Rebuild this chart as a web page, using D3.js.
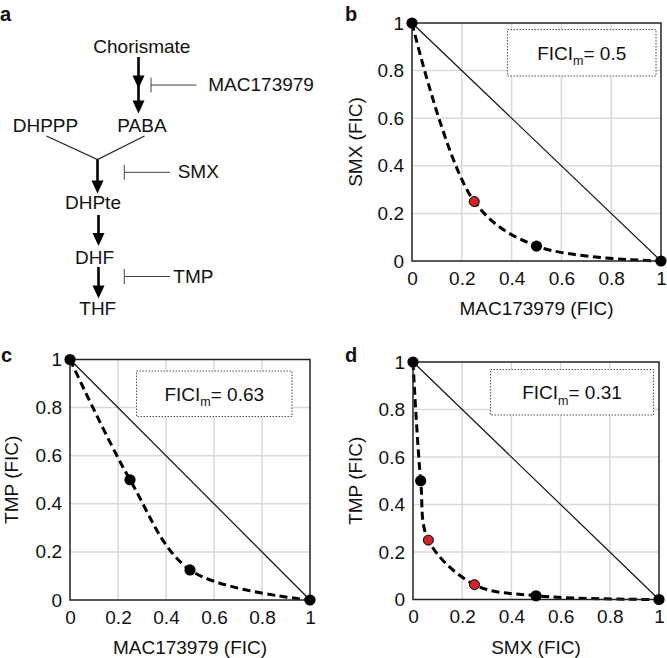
<!DOCTYPE html>
<html><head><meta charset="utf-8">
<script src="https://cdn.jsdelivr.net/npm/d3@7"></script>
<style>
html,body{margin:0;padding:0;background:#fff;}
text{font-family:"Liberation Sans",Arial,Helvetica,sans-serif;fill:#111;}
</style></head>
<body>
<svg id="chart" width="667" height="658"></svg>
<script>
// ---------- data ----------
const tickValues = [0, 0.2, 0.4, 0.6, 0.8, 1];
const tickLabels = ["0", "0.2", "0.4", "0.6", "0.8", "1"];

const panelB_x = [0, 0.25, 0.5, 1];
const panelB_y = [1, 0.25, 0.0625, 0];
const panelB_red = [false, true, false, false];

const panelC_x = [0, 0.25, 0.5, 1];
const panelC_y = [1, 0.5, 0.125, 0];
const panelC_red = [false, false, false, false];

const panelD_x = [0, 0.03125, 0.0625, 0.25, 0.5, 1];
const panelD_y = [1, 0.5, 0.25, 0.0625, 0.015625, 0];
const panelD_red = [false, false, true, true, false, false];

const ficiValues = ["0.5", "0.63", "0.31"];
const xTitles = ["MAC173979 (FIC)", "MAC173979 (FIC)", "SMX (FIC)"];
const yTitles = ["SMX (FIC)", "TMP (FIC)", "TMP (FIC)"];
const panelLetters = ["b", "c", "d"];

// ---------- layout ----------
const svg = d3.select("#chart");
const panels = [
  {x: panelB_x, y: panelB_y, red: panelB_red, l: 412, r: 661, t: 23, b: 261,
   box: [507.5, 29.5, 148.5, 46.5], letter: [345, 20.7], ytx: 362},
  {x: panelC_x, y: panelC_y, red: panelC_red, l: 70, r: 310, t: 359.5, b: 600,
   box: [136.5, 371, 155.5, 45.5], letter: [1, 361.5], ytx: 18},
  {x: panelD_x, y: panelD_y, red: panelD_red, l: 413, r: 659, t: 362, b: 599.5,
   box: [490.5, 369.5, 163, 45.5], letter: [345, 361.5], ytx: 362}
];

panels.forEach((p, i) => {
  const xs = d3.scaleLinear().domain([0, 1]).range([p.l, p.r]);
  const ys = d3.scaleLinear().domain([0, 1]).range([p.b, p.t]);
  const g = svg.append("g");

  // grid
  const inner = tickValues.filter(v => v > 0 && v < 1);
  g.selectAll(".gx").data(inner).join("line")
    .attr("x1", d => xs(d)).attr("x2", d => xs(d)).attr("y1", p.t).attr("y2", p.b)
    .attr("stroke", "#d9d9d9").attr("stroke-width", 1.5);
  g.selectAll(".gy").data(inner).join("line")
    .attr("y1", d => ys(d)).attr("y2", d => ys(d)).attr("x1", p.l).attr("x2", p.r)
    .attr("stroke", "#d9d9d9").attr("stroke-width", 1.5);

  // legend box
  g.append("rect").attr("x", p.box[0]).attr("y", p.box[1]).attr("width", p.box[2]).attr("height", p.box[3])
    .attr("fill", "#fff").attr("stroke", "#555").attr("stroke-width", 1.1).attr("stroke-dasharray", "1.5,1.5");
  const lt = g.append("text").attr("x", p.box[0] + p.box[2] / 2).attr("y", p.box[1] + p.box[3] / 2 + 7)
    .attr("text-anchor", "middle").attr("font-size", 19);
  lt.append("tspan").text("FICI");
  lt.append("tspan").attr("font-size", 12.5).attr("dy", 5.5).text("m");
  lt.append("tspan").attr("dy", -5.5).text("= " + ficiValues[i]);

  // additivity line
  g.append("line").attr("x1", xs(0)).attr("y1", ys(1)).attr("x2", xs(1)).attr("y2", ys(0))
    .attr("stroke", "#111").attr("stroke-width", 1.2);

  // isobologram curve
  const pts = p.x.map((v, k) => [v, p.y[k]]);
  const line = d3.line().x(d => xs(d[0])).y(d => ys(d[1])).curve(d3.curveCatmullRom.alpha(0.5));
  g.append("path").attr("d", line(pts)).attr("fill", "none").attr("stroke", "#000")
    .attr("stroke-width", 3).attr("stroke-dasharray", "8,4.5");

  // frame
  g.append("rect").attr("x", p.l).attr("y", p.t).attr("width", p.r - p.l).attr("height", p.b - p.t)
    .attr("fill", "none").attr("stroke", "#222").attr("stroke-width", 1.5);

  // axes
  const ax = d3.axisBottom(xs).tickValues(tickValues).tickFormat((d, k) => tickLabels[k])
    .tickSizeInner(0).tickSizeOuter(0).tickPadding(10.5);
  const axg = g.append("g").attr("transform", `translate(0,${p.b})`).call(ax);
  const ay = d3.axisLeft(ys).tickValues(tickValues).tickFormat((d, k) => tickLabels[k])
    .tickSizeInner(0).tickSizeOuter(0).tickPadding(8);
  const ayg = g.append("g").attr("transform", `translate(${p.l},0)`).call(ay);
  [axg, ayg].forEach(a => {
    a.select(".domain").remove();
    a.selectAll("text").attr("font-size", 19).attr("font-family", "Liberation Sans, Arial, sans-serif").attr("fill", "#111");
  });

  // markers
  g.selectAll(".pt").data(pts).join("circle")
    .attr("cx", d => xs(d[0])).attr("cy", d => ys(d[1]))
    .attr("r", (d, k) => p.red[k] ? 5 : 5.6)
    .attr("fill", (d, k) => p.red[k] ? "#d1232a" : "#000")
    .attr("stroke", "#000").attr("stroke-width", (d, k) => p.red[k] ? 1 : 0);

  // titles
  g.append("text").attr("x", (p.l + p.r) / 2).attr("y", p.b + 54).attr("text-anchor", "middle")
    .attr("font-size", 19).text(xTitles[i]);
  g.append("text").attr("transform", `translate(${p.ytx},${(p.t + p.b) / 2}) rotate(-90)`)
    .attr("text-anchor", "middle").attr("font-size", 19).text(yTitles[i]);
  g.append("text").attr("x", p.letter[0]).attr("y", p.letter[1]).attr("font-size", 20)
    .attr("font-weight", "bold").text(panelLetters[i]);
});

// ---------- panel a: pathway ----------
const pathwayNodes = ["Chorismate", "DHPPP", "PABA", "DHPte", "DHF", "THF"];
const inhibitors = ["MAC173979", "SMX", "TMP"];
const a = svg.append("g");
a.append("text").attr("x", 0).attr("y", 20.7).attr("font-size", 20).attr("font-weight", "bold").text("a");

const nodePos = [[93.3, 52.7], [12.7, 131.5], [117.3, 131.5], [65, 208.5], [75, 263.5], [79.3, 315]];
a.selectAll(".node").data(pathwayNodes).join("text")
  .attr("x", (d, k) => nodePos[k][0]).attr("y", (d, k) => nodePos[k][1])
  .attr("font-size", 19).text(d => d);

function arrowHead(x, tip) {
  return `M${x - 6},${tip - 13}L${x + 6},${tip - 13}L${x},${tip}Z`;
}
function arrow(x, y0, tip) {
  a.append("line").attr("x1", x).attr("x2", x).attr("y1", y0).attr("y2", tip - 6)
    .attr("stroke", "#000").attr("stroke-width", 2.6);
  a.append("path").attr("d", arrowHead(x, tip)).attr("fill", "#000");
}
arrow(138.5, 57, 113.5);
a.append("path").attr("d", arrowHead(138.5, 88.5)).attr("fill", "#000");
// Y junction
a.append("path").attr("d", "M46.5,136L97.5,159.5L144.5,136").attr("fill", "none")
  .attr("stroke", "#222").attr("stroke-width", 1.2);
arrow(97.5, 159.5, 193.5);
arrow(98.5, 215, 246);
arrow(98.5, 267, 298.5);

// inhibition bars
const inhibPos = [[151, 85, 196.5, 208.3, 90.7], [124.3, 172.3, 170, 177.7, 178.3], [124.3, 276.5, 170, 173.3, 282.7]];
inhibitors.forEach((name, k) => {
  const [x0, y, x1, tx, ty] = inhibPos[k];
  a.append("line").attr("x1", x0).attr("x2", x1).attr("y1", y).attr("y2", y).attr("stroke", "#444").attr("stroke-width", 1);
  a.append("line").attr("x1", x0).attr("x2", x0).attr("y1", y - 7.5).attr("y2", y + 7.5).attr("stroke", "#444").attr("stroke-width", 1);
  a.append("text").attr("x", tx).attr("y", ty).attr("font-size", 19).text(name);
});
</script>
</body></html>
